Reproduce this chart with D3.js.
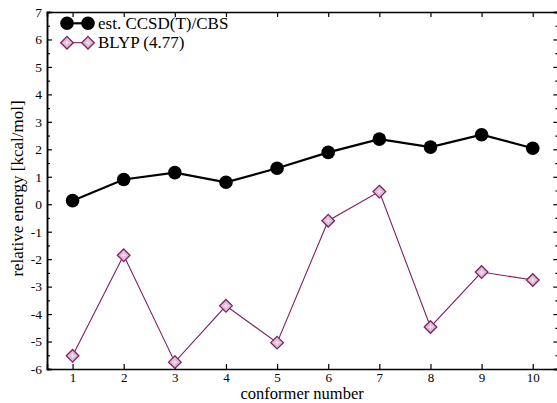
<!DOCTYPE html>
<html>
<head>
<meta charset="utf-8">
<script src="https://cdn.jsdelivr.net/npm/d3@7"></script>
<style>
  html, body { margin: 0; padding: 0; background: #fff; }
  svg { display: block; font-family: "Liberation Serif", "Times New Roman", serif; }
</style>
</head>
<body>
<svg id="chart" width="557" height="403"></svg>
<script>
// Conformer energies relative to conformer 1 of the reference method
const conformers = [1, 2, 3, 4, 5, 6, 7, 8, 9, 10];
const ccsdValues = [0.13, 0.90, 1.15, 0.80, 1.31, 1.89, 2.37, 2.08, 2.53, 2.04];
const blypValues = [-5.52, -1.86, -5.75, -3.70, -5.04, -0.60, 0.46, -4.47, -2.47, -2.76];
const seriesNames = ["est. CCSD(T)/CBS", "BLYP (4.77)"];
const yTickValues = [-6, -5, -4, -3, -2, -1, 0, 1, 2, 3, 4, 5, 6, 7];
const xTitle = "conformer number";
const yTitle = "relative energy [kcal/mol]";

const serif = '"Liberation Serif", "Times New Roman", serif';
const svg = d3.select("#chart");
const plotLeft = 47, plotRight = 558.3, plotTop = 12, plotBottom = 369;

const x = d3.scaleLinear().domain([0.5, 10.5]).range([plotLeft, plotRight]);
const y = d3.scaleLinear().domain([-6, 7]).range([plotBottom, plotTop]);

const purple = "#7f1f62";
const pink = "#dcbcd4";
const minorTicks = d3.range(-5.5, 7, 1);
const plain = d => String(d);

// Axes with inward ticks on all four sides
const gB = svg.append("g").attr("transform", `translate(0,${plotBottom})`)
  .call(d3.axisBottom(x).tickValues(conformers).tickSize(-5).tickPadding(3.5).tickFormat(plain));
const gT = svg.append("g").attr("transform", `translate(0,${plotTop})`)
  .call(d3.axisTop(x).tickValues(conformers).tickSize(-5).tickFormat(""));
const gL = svg.append("g").attr("transform", `translate(${plotLeft},0)`)
  .call(d3.axisLeft(y).tickValues(yTickValues).tickSize(-5).tickPadding(5).tickFormat(plain));
const gLm = svg.append("g").attr("transform", `translate(${plotLeft},0)`)
  .call(d3.axisLeft(y).tickValues(minorTicks).tickSize(-3).tickFormat(""));
const gR = svg.append("g").attr("transform", `translate(${plotRight},0)`)
  .call(d3.axisRight(y).tickValues(yTickValues).tickSize(-5).tickFormat(""));
const gRm = svg.append("g").attr("transform", `translate(${plotRight},0)`)
  .call(d3.axisRight(y).tickValues(minorTicks).tickSize(-3).tickFormat(""));

[gB, gT, gL, gLm, gR, gRm].forEach(g => {
  g.attr("font-family", serif).attr("font-size", 13.5);
  g.select(".domain").attr("stroke", "#000").attr("stroke-width", 1.5);
  g.selectAll(".tick line").attr("stroke", "#000").attr("stroke-width", 1.2);
  g.selectAll(".tick text").attr("fill", "#000");
});
gB.attr("font-size", 13);

// Axis titles
svg.append("text").attr("x", (plotLeft + plotRight) / 2 - 0.5).attr("y", 399.3)
  .attr("text-anchor", "middle").attr("font-size", 16.5).text(xTitle);
svg.append("text").attr("transform", `translate(22.5,${(plotTop + plotBottom) / 2 - 2}) rotate(-90)`)
  .attr("text-anchor", "middle").attr("font-size", 17).text(yTitle);

// BLYP series
const blypData = conformers.map((c, i) => [c, blypValues[i]]);
svg.append("path").datum(blypData)
  .attr("fill", "none").attr("stroke", purple).attr("stroke-width", 1.1)
  .attr("d", d3.line().x(d => x(d[0])).y(d => y(d[1])));

const diamond = s => `M0,${-s}L${s},0L0,${s}L${-s},0Z`;
function drawDiamond(g, cx, cy) {
  const m = g.append("g").attr("transform", `translate(${cx},${cy})`);
  m.append("path").attr("d", diamond(6.3)).attr("fill", pink)
    .attr("stroke", purple).attr("stroke-width", 1.3);
  m.append("path").attr("d", "M-2.5,0H2.5M0,-2.5V2.5")
    .attr("stroke", "#f3e6ef").attr("stroke-width", 1);
}
blypData.forEach(d => drawDiamond(svg, x(d[0]), y(d[1])));

// CCSD(T) series
const ccsdData = conformers.map((c, i) => [c, ccsdValues[i]]);
svg.append("path").datum(ccsdData)
  .attr("fill", "none").attr("stroke", "#000").attr("stroke-width", 2.2)
  .attr("d", d3.line().x(d => x(d[0])).y(d => y(d[1])));
svg.selectAll("circle.ccsd").data(ccsdData).join("circle")
  .attr("class", "ccsd").attr("cx", d => x(d[0])).attr("cy", d => y(d[1]))
  .attr("r", 6.8).attr("fill", "#000");

// Legend
const lx0 = 67, lx1 = 88, ly0 = 23.3, ly1 = 42.7;
svg.append("line").attr("x1", lx0).attr("x2", lx1).attr("y1", ly0).attr("y2", ly0)
  .attr("stroke", "#000").attr("stroke-width", 2.2);
[lx0, lx1].forEach(px => svg.append("circle").attr("cx", px).attr("cy", ly0).attr("r", 6.8).attr("fill", "#000"));
svg.append("line").attr("x1", lx0).attr("x2", lx1).attr("y1", ly1).attr("y2", ly1)
  .attr("stroke", purple).attr("stroke-width", 1.1);
[lx0, lx1].forEach(px => drawDiamond(svg, px, ly1));
svg.append("text").attr("x", 98).attr("y", ly0 + 5.5).attr("font-size", 17).text(seriesNames[0]);
svg.append("text").attr("x", 98).attr("y", ly1 + 5.5).attr("font-size", 17).text(seriesNames[1]);
</script>
</body>
</html>
